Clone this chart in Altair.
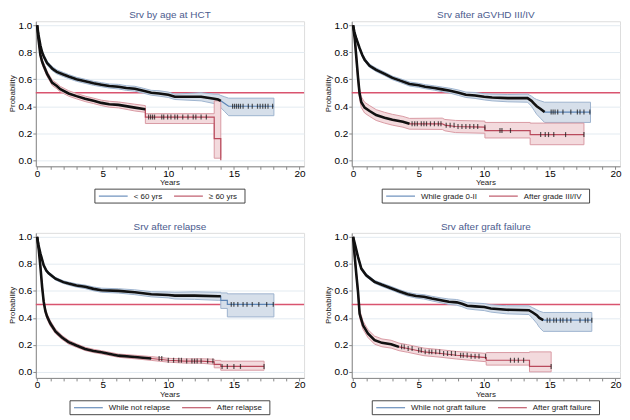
import altair as alt
import numpy as np
import pandas as pd

# ---------------- data ----------------
# Panel 1: Srv by age at HCT
p1_titles = "Srv by age at HCT"
p1_labels = ["< 60 yrs", "\u2265 60 yrs"]
p1a_t = [0, 0.1, 0.25, 0.38, 0.5, 0.76, 1.0, 1.14, 1.5, 2.0, 2.4, 3.0, 3.66, 4.3, 4.9, 5.5, 6.2, 6.8, 7.45, 8.1, 8.7, 9.3, 10.0, 10.5, 11.5, 12.5, 13.5, 13.8, 14.0, 14.3, 14.6, 18.05]
p1a_s = [1.0, 0.93, 0.85, 0.80, 0.77, 0.72, 0.695, 0.68, 0.655, 0.635, 0.62, 0.60, 0.585, 0.57, 0.56, 0.55, 0.545, 0.535, 0.53, 0.515, 0.50, 0.495, 0.485, 0.47, 0.47, 0.47, 0.455, 0.45, 0.44, 0.42, 0.40, 0.40]
p1a_lo = [1.0, 0.92, 0.84, 0.79, 0.755, 0.705, 0.68, 0.665, 0.64, 0.62, 0.605, 0.585, 0.57, 0.555, 0.545, 0.535, 0.528, 0.518, 0.512, 0.497, 0.482, 0.475, 0.465, 0.45, 0.445, 0.44, 0.42, 0.41, 0.39, 0.36, 0.33, 0.33]
p1a_hi = [1.0, 0.94, 0.86, 0.81, 0.785, 0.735, 0.71, 0.695, 0.67, 0.65, 0.635, 0.615, 0.60, 0.585, 0.575, 0.565, 0.562, 0.552, 0.548, 0.533, 0.518, 0.515, 0.505, 0.49, 0.495, 0.50, 0.49, 0.49, 0.48, 0.47, 0.46, 0.46]
p1a_dense = 14.0
p1a_cens = [14.9, 15.05, 15.2, 15.35, 15.5, 15.7, 16.1, 16.4, 16.8, 17.0, 17.2, 17.4, 17.6, 17.95]
p1b_t = [0, 0.1, 0.25, 0.38, 0.5, 0.76, 1.0, 1.14, 1.5, 1.77, 2.4, 3.0, 3.66, 4.3, 4.9, 5.5, 6.2, 7.45, 8.25, 8.251, 13.5, 13.501, 14.0, 14.001]
p1b_s = [1.0, 0.90, 0.78, 0.73, 0.70, 0.64, 0.60, 0.575, 0.55, 0.527, 0.495, 0.475, 0.455, 0.44, 0.425, 0.415, 0.41, 0.39, 0.378, 0.32, 0.32, 0.16, 0.16, 0.0]
p1b_lo = [1.0, 0.88, 0.76, 0.71, 0.68, 0.62, 0.58, 0.555, 0.53, 0.507, 0.475, 0.455, 0.435, 0.42, 0.405, 0.393, 0.388, 0.365, 0.355, 0.272, 0.272, 0.015, 0.015, 0.015]
p1b_hi = [1.0, 0.92, 0.80, 0.75, 0.72, 0.66, 0.62, 0.595, 0.57, 0.547, 0.515, 0.495, 0.475, 0.46, 0.445, 0.437, 0.432, 0.415, 0.405, 0.345, 0.345, 0.44, 0.44, 0.44]
p1b_dense = 8.25
p1b_cens = [8.5, 8.65, 8.8, 8.95, 9.5, 9.65, 9.95, 10.2, 10.5, 10.7, 11.1, 11.5, 11.9, 12.1, 12.5, 12.9]

# Panel 2: Srv after aGVHD III/IV
p2_title = "Srv after aGVHD III/IV"
p2_labels = ["While grade 0-II", "After grade III/IV"]
p2a_t = [0, 0.1, 0.25, 0.5, 0.7, 0.88, 1.26, 1.76, 2.4, 3.0, 3.6, 4.3, 5.0, 5.5, 6.2, 6.8, 7.4, 8.05, 8.6, 9.3, 10.0, 10.6, 11.8, 13.3, 13.6, 13.8, 14.0, 14.3, 14.6, 18.1]
p2a_s = [1.0, 0.95, 0.90, 0.83, 0.78, 0.745, 0.70, 0.67, 0.64, 0.61, 0.59, 0.565, 0.555, 0.545, 0.535, 0.525, 0.515, 0.50, 0.485, 0.48, 0.47, 0.465, 0.46, 0.46, 0.44, 0.42, 0.40, 0.38, 0.357, 0.357]
p2a_lo = [1.0, 0.94, 0.89, 0.82, 0.768, 0.733, 0.688, 0.657, 0.627, 0.597, 0.576, 0.55, 0.54, 0.53, 0.519, 0.508, 0.497, 0.48, 0.465, 0.458, 0.447, 0.44, 0.433, 0.43, 0.40, 0.37, 0.34, 0.31, 0.28, 0.28]
p2a_hi = [1.0, 0.96, 0.91, 0.84, 0.792, 0.757, 0.712, 0.683, 0.653, 0.623, 0.604, 0.58, 0.57, 0.56, 0.551, 0.542, 0.533, 0.52, 0.505, 0.502, 0.493, 0.49, 0.487, 0.49, 0.475, 0.46, 0.45, 0.44, 0.43, 0.43]
p2a_dense = 14.6
p2a_cens = [15.1, 15.25, 15.4, 15.6, 16.0, 16.6, 17.1, 17.3, 17.6, 18.05]
p2b_t = [0, 0.13, 0.25, 0.38, 0.5, 0.63, 0.88, 1.26, 1.76, 2.4, 3.0, 3.8, 4.3, 6.8, 7.0, 7.8, 10.05, 10.051, 13.5, 13.501, 17.6]
p2b_s = [1.0, 0.90, 0.76, 0.61, 0.49, 0.43, 0.39, 0.365, 0.335, 0.315, 0.30, 0.285, 0.27, 0.27, 0.26, 0.25, 0.245, 0.22, 0.22, 0.19, 0.19]
p2b_lo = [1.0, 0.87, 0.72, 0.57, 0.45, 0.39, 0.35, 0.325, 0.295, 0.275, 0.26, 0.245, 0.23, 0.228, 0.218, 0.205, 0.2, 0.165, 0.165, 0.115, 0.115]
p2b_hi = [1.0, 0.93, 0.80, 0.65, 0.53, 0.47, 0.43, 0.405, 0.375, 0.355, 0.34, 0.325, 0.31, 0.312, 0.302, 0.295, 0.29, 0.28, 0.28, 0.275, 0.275]
p2b_dense = 4.3
p2b_cens = [4.5, 4.7, 4.9, 5.2, 5.4, 5.6, 5.9, 6.2, 6.5, 6.7, 7.1, 7.4, 7.7, 8.0, 8.3, 8.6, 8.9, 9.2, 9.5, 10.05, 11.2, 11.35, 12.0, 14.3, 14.65, 14.9, 15.3, 16.2, 17.6]

# Panel 3: Srv after relapse
p3_title = "Srv after relapse"
p3_labels = ["While not relapse", "After relapse"]
p3a_t = [0, 0.1, 0.25, 0.5, 0.7, 0.88, 1.4, 2.0, 2.4, 3.0, 3.66, 4.3, 4.9, 6.2, 7.45, 8.7, 10.0, 10.5, 12.0, 13.8, 14.0, 14.001, 14.5, 14.501, 18.05]
p3a_s = [1.0, 0.94, 0.877, 0.79, 0.75, 0.73, 0.69, 0.665, 0.654, 0.64, 0.63, 0.615, 0.605, 0.60, 0.59, 0.575, 0.57, 0.565, 0.565, 0.56, 0.56, 0.53, 0.53, 0.50, 0.50]
p3a_lo = [1.0, 0.93, 0.867, 0.78, 0.74, 0.72, 0.68, 0.655, 0.643, 0.628, 0.617, 0.601, 0.59, 0.584, 0.572, 0.556, 0.548, 0.54, 0.537, 0.53, 0.53, 0.47, 0.47, 0.407, 0.407]
p3a_hi = [1.0, 0.95, 0.887, 0.80, 0.76, 0.74, 0.70, 0.675, 0.665, 0.652, 0.643, 0.629, 0.62, 0.616, 0.608, 0.594, 0.592, 0.59, 0.593, 0.59, 0.59, 0.585, 0.585, 0.578, 0.578]
p3a_dense = 14.0
p3a_cens = [14.8, 15.0, 15.3, 15.7, 16.0, 16.4, 16.9, 17.5, 18.0]
p3b_t = [0, 0.13, 0.25, 0.38, 0.5, 0.63, 0.76, 1.0, 1.4, 1.9, 2.4, 3.0, 3.66, 4.3, 4.9, 6.2, 7.45, 8.7, 10.0, 11.2, 12.5, 13.5, 13.501, 14.0, 14.001, 17.3]
p3b_s = [1.0, 0.90, 0.78, 0.63, 0.52, 0.45, 0.41, 0.36, 0.30, 0.255, 0.22, 0.195, 0.17, 0.155, 0.145, 0.12, 0.11, 0.099, 0.086, 0.08, 0.08, 0.074, 0.055, 0.055, 0.04, 0.04]
p3b_lo = [1.0, 0.88, 0.76, 0.61, 0.50, 0.43, 0.39, 0.34, 0.283, 0.24, 0.206, 0.182, 0.158, 0.143, 0.133, 0.108, 0.097, 0.085, 0.072, 0.065, 0.064, 0.055, 0.03, 0.03, 0.012, 0.012]
p3b_hi = [1.0, 0.92, 0.80, 0.65, 0.54, 0.47, 0.43, 0.38, 0.317, 0.27, 0.234, 0.208, 0.182, 0.167, 0.157, 0.132, 0.123, 0.113, 0.10, 0.096, 0.097, 0.094, 0.085, 0.085, 0.079, 0.079]
p3b_dense = 9.0
p3b_cens = [9.3, 9.5, 10.0, 10.4, 10.8, 11.0, 11.4, 11.8, 12.0, 12.2, 12.5, 13.0, 13.4, 14.1, 14.5, 15.0, 15.5, 17.3]

# Panel 4: Srv after graft failure
p4_title = "Srv  after graft failure"
p4_labels = ["While not graft failure", "After graft failure"]
p4a_t = [0, 0.13, 0.38, 0.63, 1.0, 1.64, 2.2, 2.9, 3.5, 4.16, 4.8, 5.4, 6.0, 6.7, 7.3, 7.9, 8.3, 8.7, 9.3, 10.0, 10.5, 11.7, 13.4, 13.7, 14.0, 14.2, 14.5, 18.2]
p4a_s = [1.0, 0.95, 0.85, 0.765, 0.716, 0.667, 0.645, 0.62, 0.597, 0.575, 0.562, 0.556, 0.543, 0.53, 0.52, 0.515, 0.505, 0.49, 0.485, 0.48, 0.47, 0.46, 0.457, 0.44, 0.42, 0.40, 0.383, 0.383]
p4a_lo = [1.0, 0.94, 0.84, 0.755, 0.705, 0.656, 0.633, 0.607, 0.584, 0.561, 0.547, 0.54, 0.526, 0.512, 0.50, 0.494, 0.483, 0.467, 0.46, 0.454, 0.443, 0.43, 0.425, 0.395, 0.36, 0.33, 0.30, 0.30]
p4a_hi = [1.0, 0.96, 0.86, 0.775, 0.727, 0.678, 0.657, 0.633, 0.61, 0.589, 0.577, 0.572, 0.56, 0.548, 0.54, 0.536, 0.527, 0.513, 0.51, 0.506, 0.497, 0.49, 0.489, 0.475, 0.46, 0.45, 0.44, 0.44]
p4a_dense = 14.5
p4a_cens = [14.8, 15.0, 15.3, 15.5, 15.8, 16.0, 16.3, 16.6, 17.3, 17.7, 17.9, 18.2]
p4b_t = [0, 0.13, 0.25, 0.38, 0.5, 0.76, 1.13, 1.64, 2.2, 2.9, 3.5, 4.16, 4.8, 5.4, 6.7, 7.9, 9.0, 10.15, 10.151, 13.45, 13.451, 15.1]
p4b_s = [1.0, 0.85, 0.72, 0.59, 0.43, 0.345, 0.284, 0.235, 0.215, 0.205, 0.185, 0.173, 0.16, 0.148, 0.136, 0.123, 0.115, 0.106, 0.086, 0.086, 0.04, 0.04]
p4b_lo = [1.0, 0.82, 0.69, 0.56, 0.40, 0.315, 0.255, 0.205, 0.186, 0.176, 0.157, 0.145, 0.132, 0.12, 0.108, 0.095, 0.085, 0.075, 0.05, 0.05, 0.0, 0.0]
p4b_hi = [1.0, 0.88, 0.75, 0.62, 0.46, 0.375, 0.313, 0.265, 0.244, 0.234, 0.213, 0.201, 0.188, 0.176, 0.164, 0.151, 0.145, 0.137, 0.143, 0.143, 0.148, 0.148]
p4b_dense = 3.5
p4b_cens = [3.7, 3.9, 4.2, 4.5, 5.0, 5.2, 5.5, 5.8, 6.0, 6.3, 6.6, 6.9, 7.2, 7.5, 7.8, 8.2, 8.4, 8.7, 9.0, 9.3, 9.6, 10.1, 12.0, 12.3, 12.6, 13.0, 15.1]

x_ticks = list(range(0, 21))
y_ticks = [0.0, 0.2, 0.4, 0.6, 0.8, 1.0]
ref_level = 0.5
x_title = "Years"
y_title = "Probability"

# ---------------- styling ----------------
LINE_COLS = ["#5d85b6", "#b94a5c"]
BAND_FILL = ["#d6dfea", "#f3dadd"]
BAND_EDGE = ["#9db3cf", "#d99aa3"]
HLINE_COL = "#d9546f"
FONT = "Liberation Sans"
FS = 8
W, H = 270, 146
XDOM = [-0.1, 20.35]
YDOM = [-0.045, 1.03]

# approximate Arial/Liberation Sans advance widths (per 1000 em) for legend layout
_AW = {" ": 278, "<": 584, "\u2265": 549, "-": 333, "/": 278, "A": 667, "I": 278, "V": 667,
       "W": 944, "a": 556, "c": 500, "d": 556, "e": 556, "f": 278, "g": 556, "h": 556,
       "i": 222, "l": 222, "n": 556, "o": 556, "p": 556, "r": 333, "s": 500, "t": 278,
       "u": 556, "y": 500}


def text_w(s):
    return sum(_AW.get(ch, 556) for ch in s) * FS / 1000.0


def series_frames(label, t, s, lo, hi, dense_end, cens):
    df = pd.DataFrame({"t": t, "s": s, "lo": lo, "hi": hi})
    df["series"] = label
    df["idx"] = range(len(df))
    dense = df[df["t"] <= dense_end].copy()
    ta = np.array(t)
    sa = np.array(s)
    pos = np.searchsorted(ta, np.array(cens), side="right") - 1
    cdf = pd.DataFrame({"t": cens, "s": sa[pos], "series": label})
    return df, dense, cdf


ONE = pd.DataFrame({"k": [0]})


def legend_layers(labels):
    pad_l, pad_r, line_len, gap_t, gap_e = 4, 8, 29, 6, 12
    w1, w2 = text_w(labels[0]), text_w(labels[1])
    total = pad_l + line_len + gap_t + w1 + gap_e + line_len + gap_t + w2 + pad_r
    left = W / 2 - total / 2
    top, bot = H + 23, H + 37
    mid = (top + bot) / 2
    layers = [alt.Chart(ONE).mark_rect(fill="white", stroke="#333", strokeWidth=0.9).encode(
        x=alt.value(left), x2=alt.value(left + total), y=alt.value(top), y2=alt.value(bot))]
    x = left + pad_l
    for lab, col, w in zip(labels, LINE_COLS, (w1, w2)):
        layers.append(alt.Chart(ONE).mark_rule(color=col, strokeWidth=1.1).encode(
            x=alt.value(x), x2=alt.value(x + line_len), y=alt.value(mid)))
        layers.append(alt.Chart(ONE).mark_text(align="left", baseline="middle", font=FONT,
                                               fontSize=FS, color="#222").encode(
            x=alt.value(x + line_len + gap_t), y=alt.value(mid + 0.5), text=alt.value(lab)))
        x = x + line_len + gap_t + w + gap_e
    return layers


def panel(title, labels, a, b):
    fa, da, ca = series_frames(labels[0], *a)
    fb, db, cb = series_frames(labels[1], *b)
    main = pd.concat([fa, fb], ignore_index=True)
    dense = pd.concat([da, db], ignore_index=True)
    cens = pd.concat([ca, cb], ignore_index=True)

    xs = alt.Scale(domain=XDOM, nice=False, zero=False)
    ys = alt.Scale(domain=YDOM, nice=False, zero=False)
    xax = alt.Axis(values=x_ticks, title=None, grid=False,
                   labelExpr="datum.value % 5 == 0 ? datum.label : ''",
                   labelOverlap=False, labelFlush=False, tickSize=3, labelPadding=-1)
    yax = alt.Axis(values=y_ticks, title=None, format=".1f", grid=True,
                   labelOverlap=False, labelFlush=False,
                   gridColor="#e3ebf1", tickSize=3, labelPadding=1)
    X = lambda f: alt.X(f, type="quantitative", scale=xs, axis=xax)
    Y = lambda f: alt.Y(f, type="quantitative", scale=ys, axis=yax)

    hline = alt.Chart(pd.DataFrame({"y": [ref_level]})).mark_rule(
        color=HLINE_COL, strokeWidth=1.5).encode(y=Y("y"))

    band = alt.Chart(main).mark_area(strokeWidth=1, clip=True).encode(
        x=X("t"), y=Y("lo"), y2="hi:Q",
        fill=alt.Fill("series:N", scale=alt.Scale(domain=labels, range=BAND_FILL), legend=None),
        stroke=alt.Stroke("series:N", scale=alt.Scale(domain=labels, range=BAND_EDGE), legend=None),
        detail="series:N",
    )

    line = alt.Chart(main).mark_line(strokeWidth=1.2, clip=True).encode(
        x=X("t"), y=Y("s"), order="idx:Q",
        color=alt.Color("series:N", scale=alt.Scale(domain=labels, range=LINE_COLS), legend=None),
    )

    dense_line = alt.Chart(dense).mark_line(strokeWidth=2.6, color="#111", clip=True).encode(
        x=X("t"), y=Y("s"), order="idx:Q", detail="series:N")

    ticks = alt.Chart(cens).mark_tick(orient="vertical", size=5, thickness=1.2, color="#111").encode(
        x=X("t"), y=Y("s"))

    xt = alt.Chart(ONE).mark_text(font=FONT, fontSize=FS, color="#222", baseline="middle").encode(
        x=alt.value(W / 2), y=alt.value(H + 17), text=alt.value(x_title))
    yt = alt.Chart(ONE).mark_text(font=FONT, fontSize=FS, color="#222", baseline="middle",
                                  angle=270).encode(
        x=alt.value(-23), y=alt.value(H / 2), text=alt.value(y_title))

    return alt.layer(hline, band, line, dense_line, ticks, xt, yt, *legend_layers(labels)).resolve_scale(
        fill="independent", stroke="independent").properties(
        width=W, height=H,
        title=alt.TitleParams(title, fontSize=10, font=FONT, color="#4b5b8e",
                              fontWeight="normal", offset=0, anchor="middle"))


c1 = panel(p1_titles, p1_labels,
           (p1a_t, p1a_s, p1a_lo, p1a_hi, p1a_dense, p1a_cens),
           (p1b_t, p1b_s, p1b_lo, p1b_hi, p1b_dense, p1b_cens))
c2 = panel(p2_title, p2_labels,
           (p2a_t, p2a_s, p2a_lo, p2a_hi, p2a_dense, p2a_cens),
           (p2b_t, p2b_s, p2b_lo, p2b_hi, p2b_dense, p2b_cens))
c3 = panel(p3_title, p3_labels,
           (p3a_t, p3a_s, p3a_lo, p3a_hi, p3a_dense, p3a_cens),
           (p3b_t, p3b_s, p3b_lo, p3b_hi, p3b_dense, p3b_cens))
c4 = panel(p4_title, p4_labels,
           (p4a_t, p4a_s, p4a_lo, p4a_hi, p4a_dense, p4a_cens),
           (p4b_t, p4b_s, p4b_lo, p4b_hi, p4b_dense, p4b_cens))

top = alt.hconcat(c1, c2, spacing=18)
bottom = alt.hconcat(c3, c4, spacing=18)

chart = alt.vconcat(top, bottom, spacing=17).properties(
    padding=0
).configure_view(stroke="#e6ebf0").configure_axis(
    labelFont=FONT, labelFontSize=FS, labelColor="#333",
    domainColor="#555", tickColor="#555", labelOverlap=False
).configure(background="white")

chart.save("out.html", embed_options={"renderer": "svg", "actions": False})
